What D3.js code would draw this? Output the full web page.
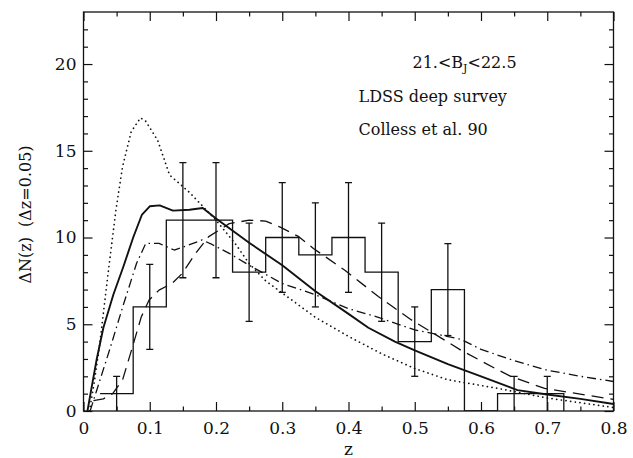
<!DOCTYPE html>
<html><head><meta charset="utf-8">
<script src="https://cdn.jsdelivr.net/npm/d3@7"></script>
<style>
body{margin:0;background:#fff}
svg text{font-family:"DejaVu Serif",serif;fill:#111}
</style>
</head><body>
<svg id="chart" width="633" height="458"></svg>
<script>
// ---------- data ----------
const binCenters = [0.05,0.10,0.15,0.20,0.25,0.30,0.35,0.40,0.45,0.50,0.55,0.60,0.65,0.70];
const binCounts  = [1,6,11,11,8,10,9,10,8,4,7,0,1,1];
const binErrors  = [1,2.45,3.32,3.32,2.83,3.16,3,3.16,2.83,2,2.65,0,1,1];
const binWidth = 0.05;

const solidZ = [0.006,0.012,0.02,0.03,0.045,0.06,0.075,0.088,0.10,0.115,0.135,0.16,0.18,0.20,0.25,0.30,0.35,0.40,0.43,0.47,0.50,0.55,0.60,0.655,0.70,0.75,0.80];
const solidN = [0,1.3,3.0,4.8,6.7,8.3,10.0,11.3,11.8,11.85,11.55,11.6,11.7,11.1,9.7,8.4,6.9,5.6,4.8,4.0,3.5,2.7,2.0,1.2,0.95,0.7,0.4];

const dottedZ = [0.009,0.016,0.024,0.037,0.049,0.059,0.072,0.086,0.094,0.112,0.13,0.16,0.20,0.23,0.25,0.275,0.30,0.35,0.40,0.45,0.50,0.55,0.626,0.70,0.80];
const dottedN = [0,1.6,3.7,7.9,11.6,14.1,16.1,16.9,16.7,15.6,13.6,12.6,11.0,9.6,8.5,7.5,6.8,5.4,4.3,3.3,2.45,1.8,1.3,0.75,0.2];

const dashdotZ = [0.01,0.02,0.04,0.06,0.08,0.094,0.114,0.137,0.159,0.179,0.194,0.22,0.25,0.30,0.35,0.40,0.445,0.50,0.53,0.57,0.60,0.65,0.70,0.75,0.80];
const dashdotN = [0,1.2,3.6,6.1,8.5,9.66,9.66,9.28,9.57,9.86,9.6,9.09,8.4,7.35,6.7,5.9,5.4,4.67,4.45,4.13,3.55,2.9,2.35,2.0,1.7];

const dashedZ = [0.015,0.03,0.044,0.059,0.074,0.087,0.099,0.114,0.134,0.149,0.169,0.189,0.22,0.25,0.275,0.297,0.325,0.347,0.395,0.445,0.495,0.52,0.57,0.626,0.646,0.696,0.80];
const dashedN = [0.6,0.7,1.0,1.8,3.7,5.4,6.4,6.97,7.36,7.93,9.08,10.05,10.8,11.0,10.95,10.6,10.05,9.37,8.1,6.6,5.25,4.67,3.5,2.36,1.98,1.3,0.67];

const xMajor = [0,0.1,0.2,0.3,0.4,0.5,0.6,0.7,0.8];
const xLabels = ["0","0.1","0.2","0.3","0.4","0.5","0.6","0.7","0.8"];
const xMinor = [0.05,0.15,0.25,0.35,0.45,0.55,0.65,0.75];
const yMajor = [0,5,10,15,20];
const yLabels = ["0","5","10","15","20"];
const yMinor = [1,2,3,4,6,7,8,9,11,12,13,14,16,17,18,19,21,22];

const annotations = [
  {lines:"21.<B", sub:"J", rest:"<22.5"},
  {text:"LDSS deep survey"},
  {text:"Colless et al. 90"}
];

// ---------- layout ----------
const W = 633, H = 458;
const m = {left:83.5, right:19.5, top:12, bottom:47};
const iw = W - m.left - m.right, ih = H - m.top - m.bottom;

const svg = d3.select("#chart");
const g = svg.append("g").attr("transform",`translate(${m.left},${m.top})`);

const x = d3.scaleLinear().domain([0,0.8]).range([0,iw]);
const y = d3.scaleLinear().domain([0,23]).range([ih,0]);

const ink = "#111";
const MAJ = 9, MIN = 4.5;

function styleAxis(sel){
  sel.select(".domain").remove();
  sel.selectAll(".tick line").attr("stroke",ink).attr("stroke-width",1.2);
  sel.selectAll("text").attr("font-size",17).attr("fill",ink).style("font-family",'"DejaVu Serif",serif');
}

// bottom
g.append("g").attr("transform",`translate(0,${ih})`)
  .call(d3.axisBottom(x).tickValues(xMajor).tickSizeInner(-MAJ).tickSizeOuter(0).tickPadding(11)
    .tickFormat((d,i)=>xLabels[i])).call(styleAxis);
g.append("g").attr("transform",`translate(0,${ih})`)
  .call(d3.axisBottom(x).tickValues(xMinor).tickSizeInner(-MIN).tickSizeOuter(0).tickFormat("")).call(styleAxis);
// top
g.append("g")
  .call(d3.axisTop(x).tickValues(xMajor).tickSizeInner(-MAJ).tickSizeOuter(0).tickFormat("")).call(styleAxis);
g.append("g")
  .call(d3.axisTop(x).tickValues(xMinor).tickSizeInner(-MIN).tickSizeOuter(0).tickFormat("")).call(styleAxis);
// left
g.append("g")
  .call(d3.axisLeft(y).tickValues(yMajor).tickSizeInner(-MAJ).tickSizeOuter(0).tickPadding(7)
    .tickFormat((d,i)=>yLabels[i])).call(styleAxis);
g.append("g")
  .call(d3.axisLeft(y).tickValues(yMinor).tickSizeInner(-MIN).tickSizeOuter(0).tickFormat("")).call(styleAxis);
// right
g.append("g").attr("transform",`translate(${iw},0)`)
  .call(d3.axisRight(y).tickValues(yMajor).tickSizeInner(-MAJ).tickSizeOuter(0).tickFormat("")).call(styleAxis);
g.append("g").attr("transform",`translate(${iw},0)`)
  .call(d3.axisRight(y).tickValues(yMinor).tickSizeInner(-MIN).tickSizeOuter(0).tickFormat("")).call(styleAxis);

// frame
g.append("rect").attr("x",0).attr("y",0).attr("width",iw).attr("height",ih)
  .attr("fill","none").attr("stroke",ink).attr("stroke-width",1.3);

// clip
svg.append("defs").append("clipPath").attr("id","clip")
  .append("rect").attr("width",iw).attr("height",ih);
const plot = g.append("g").attr("clip-path","url(#clip)");

// histogram (step)
const stepPts = binCenters.map((c,i)=>[c-binWidth/2, binCounts[i]]);
stepPts.push([binCenters[binCenters.length-1]+binWidth/2, 0]);
plot.append("path").datum(stepPts)
  .attr("d", d3.line().x(d=>x(d[0])).y(d=>y(d[1])).curve(d3.curveStepAfter))
  .attr("fill","none").attr("stroke",ink).attr("stroke-width",1.3);

// error bars
const cap = 3.5;
const eb = plot.append("g").attr("stroke",ink).attr("stroke-width",1.3);
binCenters.forEach((c,i)=>{
  if(binErrors[i] <= 0) return;
  const lo = Math.max(0, binCounts[i]-binErrors[i]), hi = binCounts[i]+binErrors[i];
  eb.append("line").attr("x1",x(c)).attr("x2",x(c)).attr("y1",y(lo)).attr("y2",y(hi));
  eb.append("line").attr("x1",x(c)-cap).attr("x2",x(c)+cap).attr("y1",y(hi)).attr("y2",y(hi));
  if(lo>0) eb.append("line").attr("x1",x(c)-cap).attr("x2",x(c)+cap).attr("y1",y(lo)).attr("y2",y(lo));
});

// model curves
const line = d3.line().x(d=>x(d[0])).y(d=>y(d[1]));
function curve(zs, ns, opts){
  plot.append("path").datum(zs.map((z,i)=>[z,ns[i]]))
    .attr("d",line).attr("fill","none").attr("stroke",ink)
    .attr("stroke-width",opts.w).attr("stroke-dasharray",opts.dash||null)
    .attr("stroke-linecap",opts.cap||"butt").attr("stroke-linejoin","round");
}
curve(dottedZ, dottedN, {w:1.7, dash:"0.1,4.6", cap:"round"});
curve(dashdotZ, dashdotN, {w:1.3, dash:"9,4,1.5,4"});
curve(dashedZ, dashedN, {w:1.3, dash:"12,7"});
curve(solidZ, solidN, {w:1.9});

// annotations
const ann = g.append("g").attr("font-size",16);
const t1 = ann.append("text").attr("x",329).attr("y",56);
t1.append("tspan").text(annotations[0].lines);
t1.append("tspan").attr("font-size",11).attr("dy",4).text(annotations[0].sub);
t1.append("tspan").attr("dy",-4).text(annotations[0].rest);
ann.append("text").attr("x",275).attr("y",90).text(annotations[1].text);
ann.append("text").attr("x",275).attr("y",123).text(annotations[2].text);

// axis titles
svg.append("text").attr("x",m.left+iw/2).attr("y",455).attr("text-anchor","middle")
  .attr("font-size",17).text("z");
svg.append("text").attr("transform",`translate(31,${m.top+ih/2+3}) rotate(-90)`)
  .attr("text-anchor","middle").attr("font-size",16).style("white-space","pre")
  .text("ΔN(z)  (Δz=0.05)");
</script>
</body></html>
